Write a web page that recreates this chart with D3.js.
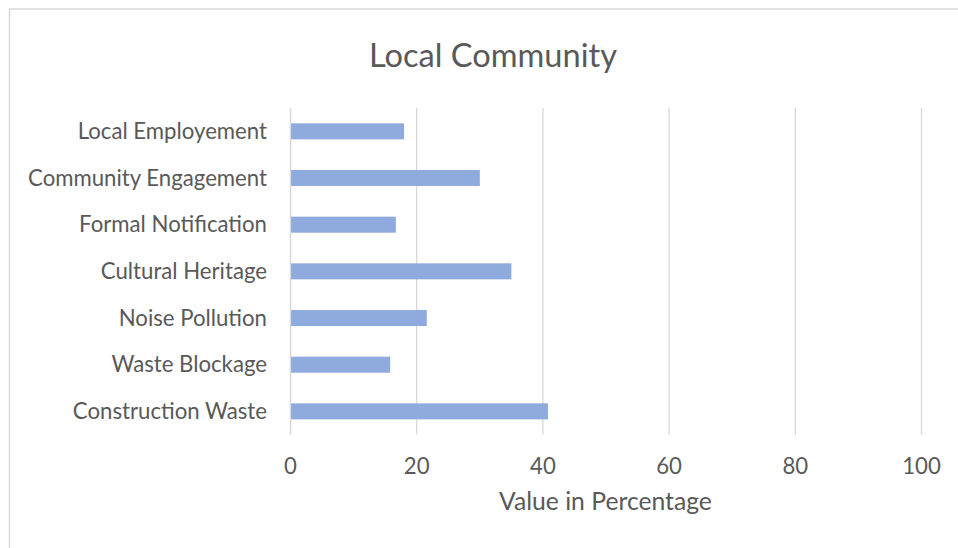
<!DOCTYPE html>
<html>
<head>
<meta charset="utf-8">
<script src="https://cdn.jsdelivr.net/npm/d3@7"></script>
<style>
  html, body { margin: 0; padding: 0; background: #ffffff; }
  svg { display: block; }
  text { font-family: Lato, "Open Sans", sans-serif; fill: #595959; }
</style>
</head>
<body>
<svg id="chart" width="958" height="548"></svg>
<script>
// Survey categories, listed top to bottom
const categories = [
  "Local Employement",
  "Community Engagement",
  "Formal Notification",
  "Cultural Heritage",
  "Noise Pollution",
  "Waste Blockage",
  "Construction Waste"
];
// Share of responses per category (%)
const values = [18.0, 30.0, 16.7, 35.0, 21.6, 15.8, 40.8];
const xTicks = [0, 20, 40, 60, 80, 100];
const chartTitle = "Local Community";
const xAxisTitle = "Value in Percentage";

const svg = d3.select("#chart");
const W = 958, H = 548;
const plot = { left: 290.5, right: 921.5, top: 108, bottom: 434.7 };

// Outer chart frame
svg.append("rect")
  .attr("x", 9.5).attr("y", 9)
  .attr("width", W + 10).attr("height", H + 10)
  .attr("fill", "#ffffff")
  .attr("stroke", "#d9d9d9").attr("stroke-width", 1.5);

const x = d3.scaleLinear().domain([0, 100]).range([plot.left, plot.right]);
const y = d3.scaleBand()
  .domain(categories)
  .range([plot.top, plot.bottom])
  .paddingInner(0.657)
  .paddingOuter(0.657 / 2);

// Fit text to a target width by scaling its font size
function fitText(sel, targetWidth) {
  sel.attr("font-size", 100);
  const w = sel.node().getComputedTextLength();
  sel.attr("font-size", 100 * targetWidth / w);
  return sel;
}

// Vertical gridlines
svg.append("g")
  .selectAll("line")
  .data(xTicks)
  .join("line")
  .attr("x1", d => x(d)).attr("x2", d => x(d))
  .attr("y1", plot.top).attr("y2", plot.bottom)
  .attr("stroke", "#d9d9d9").attr("stroke-width", 1.3);

// Bars
svg.append("g")
  .selectAll("rect")
  .data(categories)
  .join("rect")
  .attr("x", x(0))
  .attr("y", d => y(d))
  .attr("width", (d, i) => x(values[i]) - x(0))
  .attr("height", y.bandwidth())
  .attr("fill", "#8faadc");

// Category axis line at zero
svg.append("line")
  .attr("x1", x(0)).attr("x2", x(0))
  .attr("y1", plot.top).attr("y2", plot.bottom)
  .attr("stroke", "#d9d9d9").attr("stroke-width", 1.3);

// Category labels
const catLabels = svg.append("g")
  .selectAll("text")
  .data(categories)
  .join("text")
  .attr("x", 267)
  .attr("y", d => y(d) + y.bandwidth() / 2)
  .attr("dy", "0.35em")
  .attr("text-anchor", "end")
  .text(d => d);
// size all category labels from the widest one
{
  const probe = catLabels.filter((d, i) => i === 1);
  fitText(probe, 239);
  const fs = probe.attr("font-size");
  catLabels.attr("font-size", fs);
}

// Value axis tick labels
const tickLabels = svg.append("g")
  .selectAll("text")
  .data(xTicks)
  .join("text")
  .attr("x", d => x(d))
  .attr("y", 474)
  .attr("text-anchor", "middle")
  .text(d => d3.format("d")(d));
tickLabels.attr("font-size", catLabels.attr("font-size"));

// Axis title
const axTitle = svg.append("text")
  .attr("x", 605.5).attr("y", 510)
  .attr("text-anchor", "middle")
  .text(xAxisTitle);
fitText(axTitle, 213);

// Chart title
const title = svg.append("text")
  .attr("x", 493).attr("y", 67)
  .attr("text-anchor", "middle")
  .text(chartTitle);
fitText(title, 248);
</script>
</body>
</html>
